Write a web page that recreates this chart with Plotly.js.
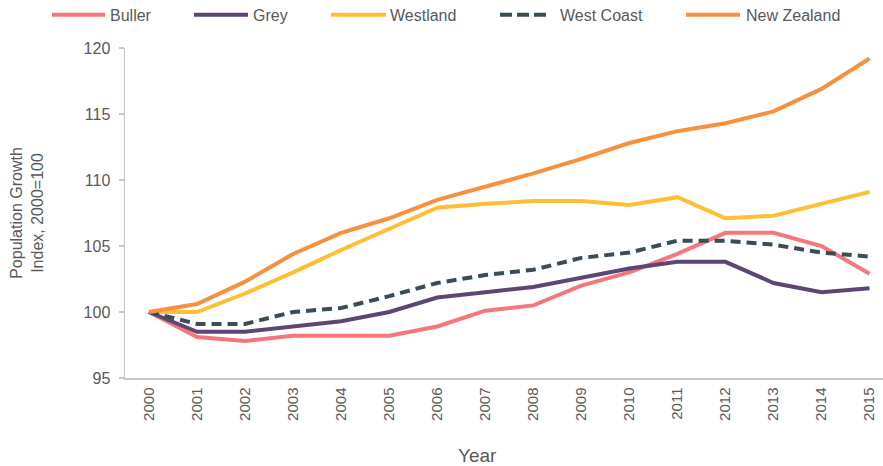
<!DOCTYPE html>
<html>
<head>
<meta charset="utf-8">
<script src="https://cdn.plot.ly/plotly-3.0.1.min.js"></script>
<style>html,body{margin:0;padding:0;background:#fff;}#chart{width:883px;height:466px;}</style>
</head>
<body>
<div id="chart"></div>
<script>
const years = ["2000","2001","2002","2003","2004","2005","2006","2007","2008","2009","2010","2011","2012","2013","2014","2015"];
const buller     = [100, 98.1, 97.8, 98.2, 98.2, 98.2, 98.9, 100.1, 100.5, 102.0, 103.0, 104.4, 106.0, 106.0, 105.0, 102.9];
const grey       = [100, 98.5, 98.5, 98.9, 99.3, 100.0, 101.1, 101.5, 101.9, 102.6, 103.3, 103.8, 103.8, 102.2, 101.5, 101.8];
const westland   = [100, 100.0, 101.4, 103.0, 104.7, 106.3, 107.9, 108.2, 108.4, 108.4, 108.1, 108.7, 107.1, 107.3, 108.2, 109.1];
const westCoast  = [100, 99.1, 99.1, 100.0, 100.3, 101.2, 102.2, 102.8, 103.2, 104.1, 104.5, 105.4, 105.4, 105.1, 104.5, 104.2];
const newZealand = [100, 100.6, 102.3, 104.4, 106.0, 107.1, 108.5, 109.5, 110.5, 111.6, 112.8, 113.7, 114.3, 115.2, 116.9, 119.2];
const seriesNames = ["Buller", "Grey", "Westland", "West Coast", "New Zealand"];
const yTicks = [95, 100, 105, 110, 115, 120];
const xTitle = "Year";
const yTitle = "Population Growth<br>Index, 2000=100";

// styles
const colors = ["#F4777C", "#5B4772", "#FFBF35", "#3A4D57", "#F7913D"];
const dashes = ["solid", "solid", "solid", "10px,6px", "solid"];
const legendDashes = ["solid", "solid", "solid", "12px,5px", "solid"];

// layout geometry (pixels)
const W = 883, H = 466, ML = 125, MR = 0, MT = 48, MB = 88;
const PW = W - ML - MR, PH = H - MT - MB;
const px2x = p => (p - ML) / PW;
const py2y = p => (H - MB - p) / PH;
const legendLineStart = [52, 194, 331, 500, 686];
const legendLineEnd   = [105, 248, 386, 546, 740];
const legendTextStart = [108, 251, 388, 558, 744];
const legendY = 14.7;

const data = [buller, grey, westland, westCoast, newZealand].map((vals, i) => ({
  type: "scatter", mode: "lines", x: years, y: vals, name: seriesNames[i],
  line: {color: colors[i], width: 4, dash: dashes[i], shape: "linear"},
  hoverinfo: "skip", showlegend: false
}));

const shapes = seriesNames.map((n, i) => ({
  type: "line", xref: "paper", yref: "paper",
  x0: px2x(legendLineStart[i]), x1: px2x(legendLineEnd[i]),
  y0: py2y(legendY), y1: py2y(legendY),
  line: {color: colors[i], width: 4, dash: legendDashes[i]}
}));

const font = "'Liberation Sans', Arial, sans-serif";
const annotations = seriesNames.map((n, i) => ({
  text: n, xref: "paper", yref: "paper", showarrow: false,
  x: px2x(legendTextStart[i]), y: py2y(legendY + 0.5), xanchor: "left", yanchor: "middle",
  font: {family: font, size: 16, color: "#595959"}
}));
annotations.push({
  text: xTitle, xref: "paper", yref: "paper", showarrow: false,
  x: px2x(477), y: py2y(455), xanchor: "center", yanchor: "middle",
  font: {family: font, size: 19, color: "#595959"}
});

const layout = {
  width: W, height: H,
  margin: {l: ML, r: MR, t: MT, b: MB},
  paper_bgcolor: "#fff", plot_bgcolor: "#fff",
  font: {family: font, color: "#595959", size: 15},
  showlegend: false,
  shapes: shapes,
  annotations: annotations,
  xaxis: {
    type: "category", range: [-0.5, 15.28],
    showline: true, linecolor: "#C8C8C8", linewidth: 1.5,
    showgrid: false, zeroline: false, ticks: "",
    tickangle: -90, tickfont: {size: 15, color: "#595959"},
    ticklabelstandoff: 2
  },
  yaxis: {
    range: [95, 120], tickvals: yTicks, ticktext: yTicks.map(String),
    showline: true, linecolor: "#C8C8C8", linewidth: 1.5,
    showgrid: false, zeroline: false,
    ticks: "outside", ticklen: 5, tickcolor: "#C8C8C8", tickwidth: 1.5,
    tickfont: {size: 16, color: "#595959"},
    ticklabelstandoff: 5,
    title: {text: yTitle, font: {size: 16, color: "#595959"}, standoff: 36}
  }
};
Plotly.newPlot("chart", data, layout, {displayModeBar: false, staticPlot: true});
</script>
</body>
</html>
